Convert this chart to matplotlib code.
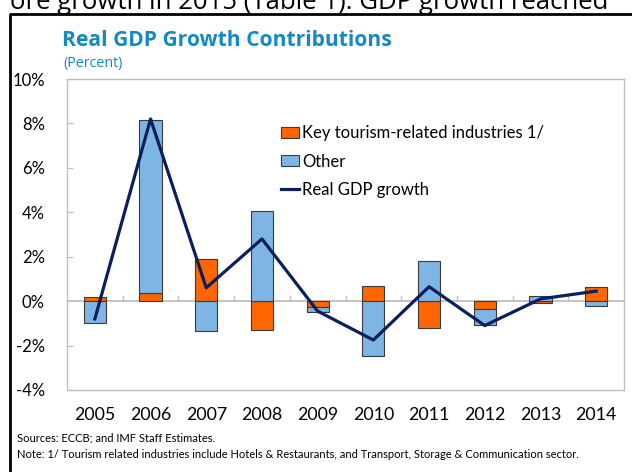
import matplotlib

matplotlib.use("Agg")
import matplotlib.pyplot as plt
from matplotlib.lines import Line2D
from matplotlib.patches import Patch
import numpy as np

# contributions to real GDP growth, percentage points
years = ["2005", "2006", "2007", "2008", "2009", "2010", "2011", "2012", "2013", "2014"]
tourism = [0.2, 0.37, 1.9, -1.3, -0.25, 0.7, -1.2, -0.35, -0.1, 0.65]
other = [-1.0, 7.8, -1.35, 4.05, -0.25, -2.45, 1.8, -0.72, 0.25, -0.2]
gdp_growth = [-0.8, 8.2, 0.6, 2.8, -0.45, -1.75, 0.65, -1.1, 0.1, 0.45]
y_ticks = [-4, -2, 0, 2, 4, 6, 8, 10]

ORANGE = "#FF6600"
LIGHT_BLUE = "#7EB5E4"
NAVY = "#0B1F5E"
TITLE_BLUE = "#1489C4"
GRID_GRAY = "#BFBFBF"

W, H = 632, 472
plt.rcParams["font.family"] = ["Lato", "DejaVu Sans"]

fig = plt.figure(figsize=(W / 100, H / 100), dpi=100)


def px(x, y):
    """pixel coords (from top-left) -> figure fraction"""
    return x / W, 1 - y / H


ax_l, ax_r, ax_t, ax_b = 67, 624, 79, 390
ax = fig.add_axes([ax_l / W, 1 - ax_b / H, (ax_r - ax_l) / W, (ax_b - ax_t) / H])

x = np.arange(len(years))
tourism = np.array(tourism)
other = np.array(other)
# positives stack upward from zero, negatives downward
other_bottom = np.where(np.sign(other) == np.sign(tourism), tourism, 0.0)

bar_w = 0.4
ax.axhline(0, color=GRID_GRAY, lw=1.3, zorder=1)
ax.bar(x, tourism, width=bar_w, color=ORANGE, edgecolor="#3A3A3A", lw=0.8, zorder=2,
       label="Key tourism-related industries 1/")
ax.bar(x, other, width=bar_w, bottom=other_bottom, color=LIGHT_BLUE, edgecolor="#3A3A3A",
       lw=0.8, zorder=2, label="Other")
ax.plot(x, gdp_growth, color=NAVY, lw=2.3, zorder=3, label="Real GDP growth")

# small category separators on the zero line
for b in np.arange(0.5, len(years) - 1, 1.0):
    ax.plot([b, b], [0, 0.22], color=GRID_GRAY, lw=1.0, zorder=1)

ax.set_xlim(-0.5, len(years) - 0.5)
ax.set_ylim(-4, 10)
ax.set_yticks(y_ticks)
ax.set_yticklabels([f"{v}%" for v in y_ticks])
ax.set_xticks(x)
ax.set_xticklabels(years)
ax.tick_params(axis="y", direction="in", length=4, color=GRID_GRAY, labelsize=12, pad=16)
ax.tick_params(axis="x", length=0, labelsize=12.8, pad=12)
for s in ax.spines.values():
    s.set_color(GRID_GRAY)
    s.set_linewidth(1.0)

handles = [
    Patch(facecolor=ORANGE, edgecolor="#3A3A3A", lw=0.8),
    Patch(facecolor=LIGHT_BLUE, edgecolor="#3A3A3A", lw=0.8),
    Line2D([], [], color=NAVY, lw=2.3),
]
labels = ["Key tourism-related industries 1/", "Other", "Real GDP growth"]
fig.legend(handles, labels, loc="upper left", bbox_to_anchor=px(281, 125), frameon=False,
           fontsize=12, handlelength=1.1, handleheight=0.62, handletextpad=0.15,
           labelspacing=0.75, borderpad=0, borderaxespad=0)

fig.text(*px(62, 41), "Real GDP Growth Contributions", fontsize=15.1, fontweight="bold",
         family="Open Sans", color=TITLE_BLUE, va="center", ha="left")
fig.text(*px(63, 64), "(Percent)", fontsize=10.3, family="Open Sans", color=TITLE_BLUE,
         va="center", ha="left")

fig.text(*px(17, 438), "Sources: ECCB; and IMF Staff Estimates.", fontsize=8,
         va="center", ha="left")
fig.text(*px(17, 455), "Note: 1/ Tourism related industries include Hotels & Restaurants, "
         "and Transport, Storage & Communication sector.", fontsize=8, va="center", ha="left")

# surrounding document: box frame and the line of body text above it
fig.add_artist(Line2D([10 / W, 10 / W, 1.05], [-0.05, 1 - 14 / H, 1 - 14 / H],
                      transform=fig.transFigure, color="black", lw=2.0))
fig.text(*px(608, 9), "ore growth in 2015 (Table 1). GDP growth reached", fontsize=18.5,
         family="Open Sans", va="baseline", ha="right")

fig.savefig("out.png", dpi=100)
